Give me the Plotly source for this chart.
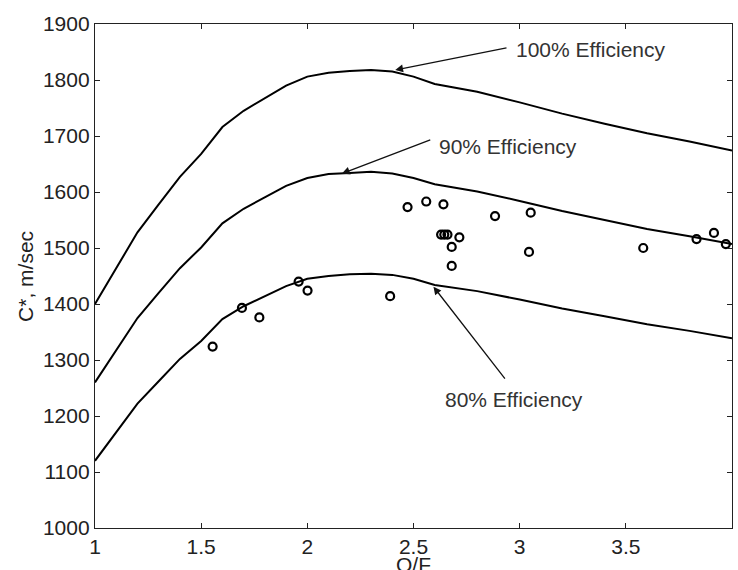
import plotly.graph_objects as go

# O/F grid for the theoretical curves
of_grid = [1.0, 1.1, 1.2, 1.3, 1.4, 1.5, 1.6, 1.7, 1.8, 1.9, 2.0, 2.1, 2.2, 2.3, 2.4,
           2.5, 2.6, 2.8, 3.0, 3.2, 3.4, 3.6, 3.8, 4.0]
cstar_100 = [1400, 1465, 1528, 1578, 1627, 1668, 1716, 1745, 1768, 1790, 1806, 1813,
             1816, 1818, 1815, 1806, 1793, 1779, 1760, 1740, 1722, 1705, 1690, 1674]
cstar_90 = [1260, 1318, 1375, 1420, 1464, 1501, 1544, 1570, 1591, 1611, 1625, 1632,
            1634, 1636, 1633, 1625, 1614, 1601, 1584, 1566, 1550, 1534, 1521, 1507]
cstar_80 = [1120, 1172, 1222, 1262, 1302, 1334, 1373, 1396, 1414, 1432, 1445, 1450,
            1453, 1454, 1452, 1445, 1434, 1423, 1408, 1392, 1378, 1364, 1352, 1339]

# measured test points
test_of = [1.554, 1.692, 1.774, 1.959, 2.001, 2.39, 2.472, 2.56, 2.641, 2.63, 2.645,
           2.66, 2.716, 2.68, 2.68, 2.884, 3.052, 3.044, 3.582, 3.833, 3.915, 3.971]
test_cstar = [1324, 1393, 1376, 1440, 1424, 1414, 1573, 1583, 1578, 1524, 1524,
              1524, 1519, 1502, 1468, 1557, 1563, 1493, 1500, 1516, 1527, 1507]

x_ticks = [1, 1.5, 2, 2.5, 3, 3.5, 4]
x_tick_labels = ["1", "1.5", "2", "2.5", "3", "3.5", "4"]
y_ticks = [1000, 1100, 1200, 1300, 1400, 1500, 1600, 1700, 1800, 1900]

FONT = "Liberation Sans, Arial, Helvetica, sans-serif"
TXT = "#222222"

fig = go.Figure()
for ys in (cstar_100, cstar_90, cstar_80):
    fig.add_trace(go.Scatter(x=of_grid, y=ys, mode="lines",
                             line=dict(color="black", width=2), showlegend=False,
                             hoverinfo="skip"))
fig.add_trace(go.Scatter(x=test_of, y=test_cstar, mode="markers", cliponaxis=False,
                         marker=dict(symbol="circle-open", size=8, color="black",
                                     line=dict(width=2.2, color="black")),
                         showlegend=False))

# labels with arrows
labels = [
    ("100% Efficiency", 2.414, 1818, 2.945, 1858, 2.975, 1854),
    ("90% Efficiency", 2.163, 1633, 2.586, 1694, 2.61, 1681),
    ("80% Efficiency", 2.594, 1431, 2.936, 1264, 2.641, 1229),
]
for text, hx, hy, tx, ty, lx, ly in labels:
    fig.add_annotation(x=hx, y=hy, ax=tx, ay=ty, xref="x", yref="y", axref="x", ayref="y",
                       text="", showarrow=True, arrowhead=2, arrowsize=1.2,
                       arrowwidth=1.3, arrowcolor="#111111")
    fig.add_annotation(x=lx, y=ly, xref="x", yref="y", text=text, showarrow=False,
                       xanchor="left", yanchor="middle",
                       font=dict(family=FONT, size=21, color="#333333"))

# axis titles
fig.add_annotation(x=0.5, y=-0.045, xref="paper", yref="paper", text="O/F",
                   showarrow=False, xanchor="center", yanchor="top",
                   font=dict(family=FONT, size=21, color=TXT))
fig.add_annotation(x=-0.11, y=0.5, xref="paper", yref="paper", text="C*, m/sec",
                   showarrow=False, textangle=-90, xanchor="center", yanchor="middle",
                   font=dict(family=FONT, size=21, color=TXT))

axis_common = dict(showgrid=False, zeroline=False, showline=True, linecolor="#222222",
                   linewidth=1.3, mirror="ticks", ticks="inside", ticklen=5,
                   tickcolor="#222222", tickwidth=1, automargin=False,
                   tickfont=dict(family=FONT, size=21, color=TXT))
fig.update_xaxes(range=[1, 4], tickvals=x_ticks, ticktext=x_tick_labels, **axis_common)
fig.update_yaxes(range=[1000, 1900], tickvals=y_ticks, **axis_common)

fig.update_layout(width=738, height=570, margin=dict(l=95, r=6, t=24, b=42),
                  plot_bgcolor="white", paper_bgcolor="white")

fig.write_html("out.html", config={"displayModeBar": False},
               post_script="document.body.style.margin='0';"
                           "document.body.style.overflow='hidden';")
